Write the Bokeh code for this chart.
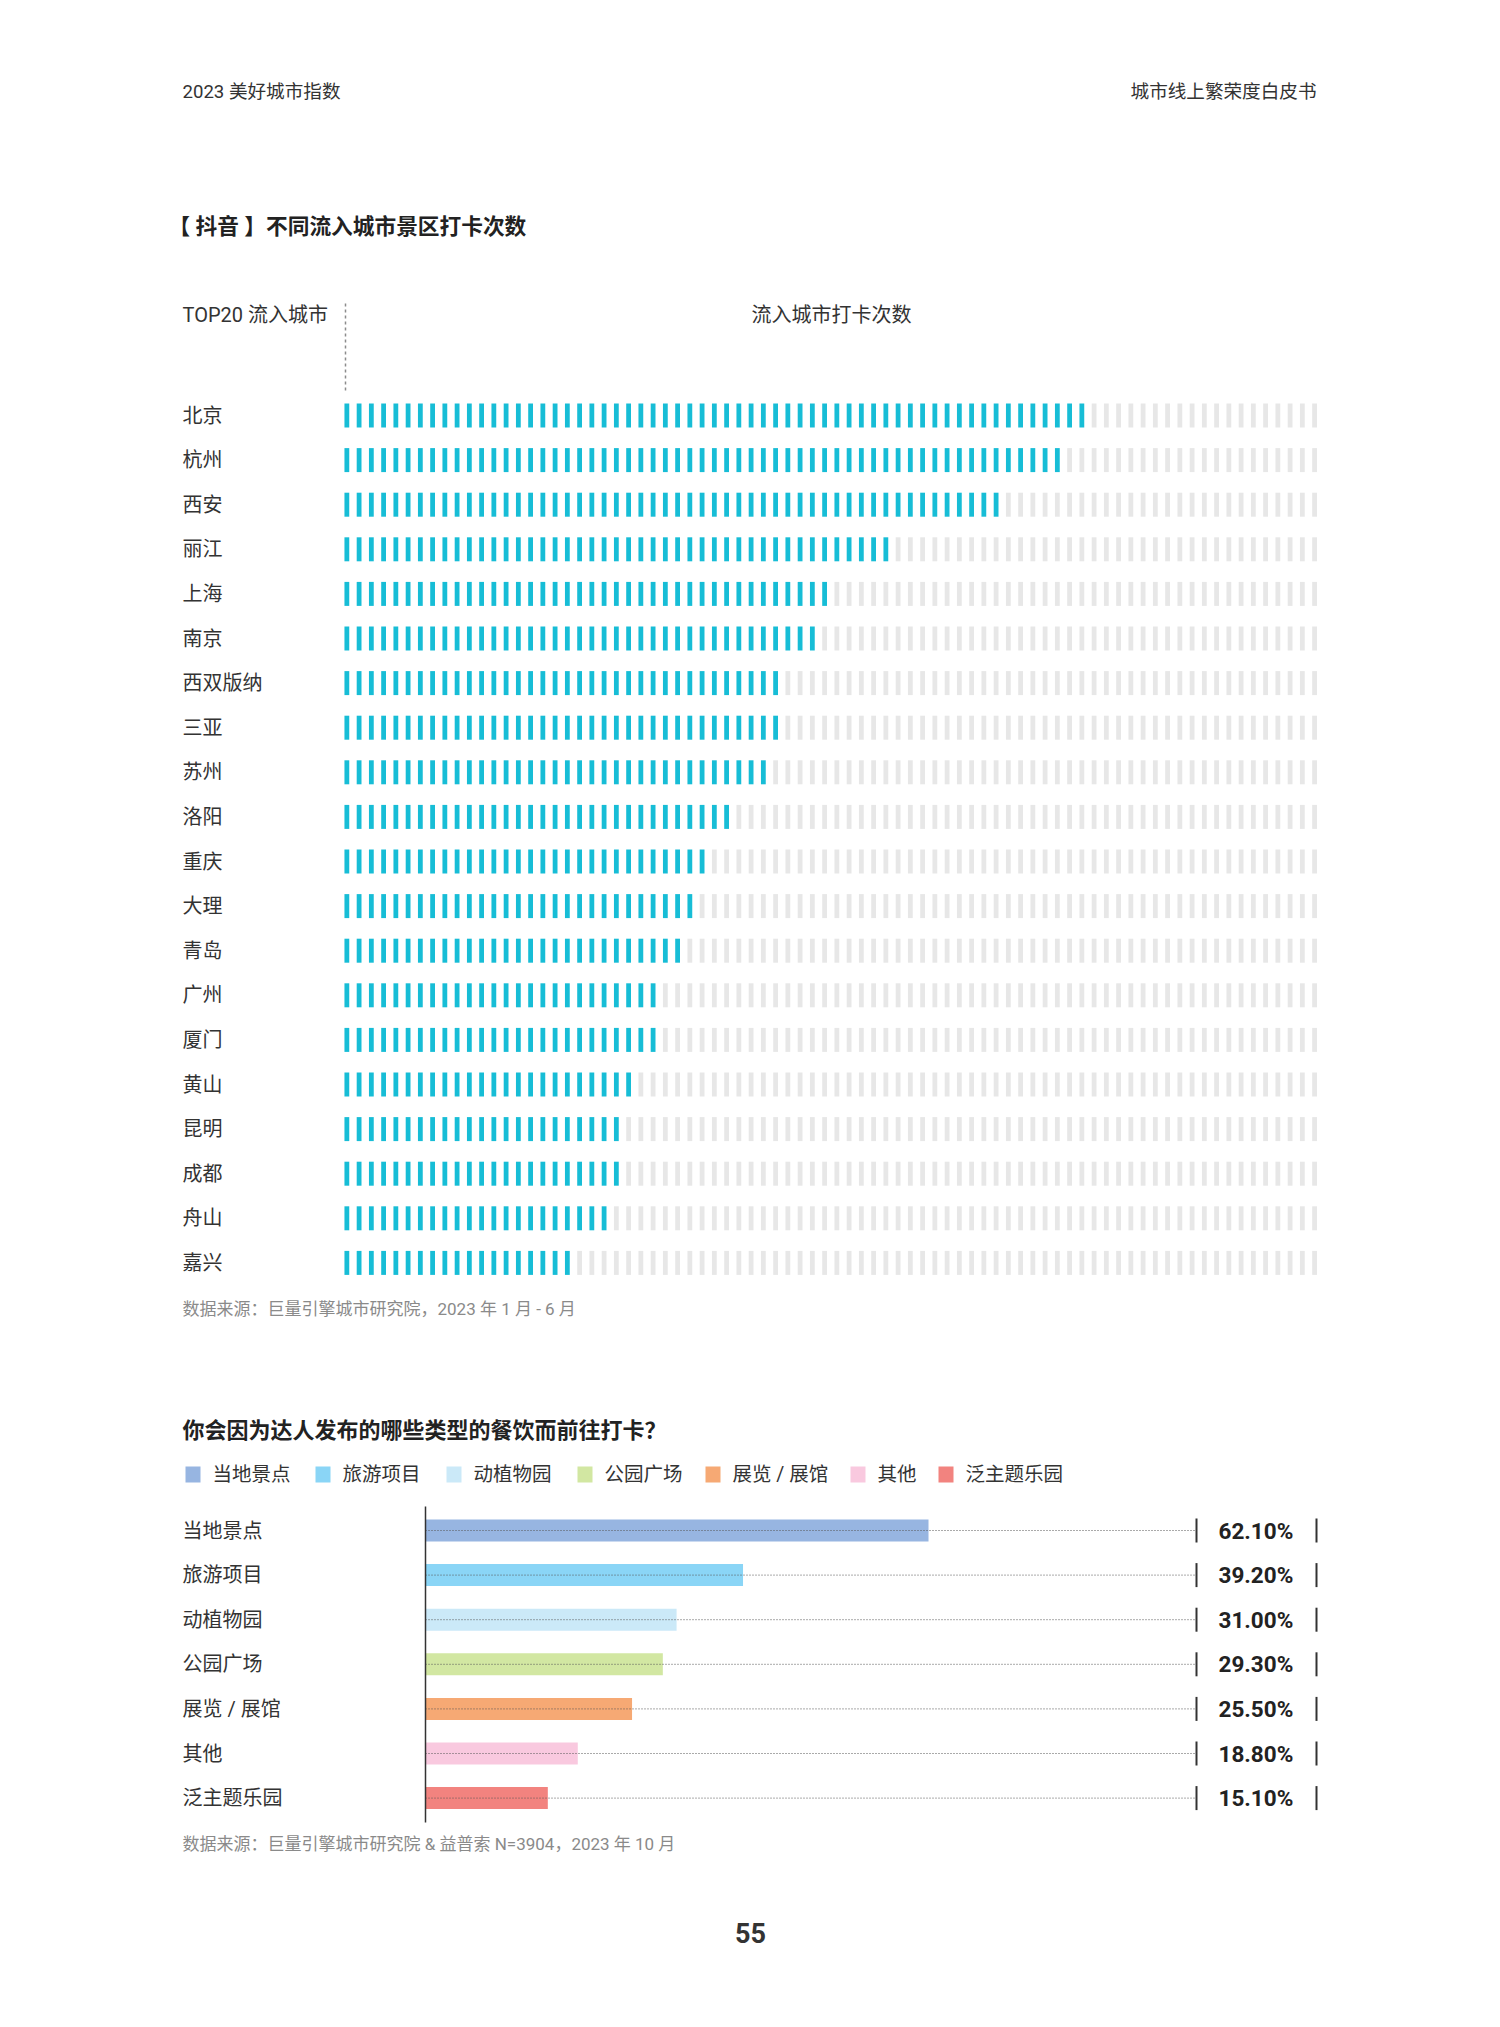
from bokeh.plotting import figure
from bokeh.models import Range1d
from bokeh.layouts import column
from bokeh.core.properties import value
from bokeh.embed import file_html
from bokeh.resources import INLINE

# ---------------- data ----------------
header_left = "2023 美好城市指数"
header_right = "城市线上繁荣度白皮书"
title1 = "【 抖音 】不同流入城市景区打卡次数"
col_head_left = "TOP20 流入城市"
col_head_right = "流入城市打卡次数"
cities = ["北京", "杭州", "西安", "丽江", "上海", "南京", "西双版纳", "三亚", "苏州", "洛阳",
          "重庆", "大理", "青岛", "广州", "厦门", "黄山", "昆明", "成都", "舟山", "嘉兴"]
checkin_blocks = [61, 59, 54, 45, 40, 39, 36, 36, 35, 32, 30, 29, 28, 26, 26, 24, 23, 23, 22, 19]
total_blocks = 80
source1 = "数据来源：巨量引擎城市研究院，2023 年 1 月 - 6 月"

title2 = "你会因为达人发布的哪些类型的餐饮而前往打卡？"
types = ["当地景点", "旅游项目", "动植物园", "公园广场", "展览 / 展馆", "其他", "泛主题乐园"]
shares = [62.10, 39.20, 31.00, 29.30, 25.50, 18.80, 15.10]
type_colors = ["#97B5E1", "#8AD5F6", "#CBE9F8", "#D2E7A2", "#F6A974", "#F9C9DF", "#F2837F"]
source2 = "数据来源：巨量引擎城市研究院 & 益普索 N=3904，2023 年 10 月"
page_no = "55"

# ---------------- style / layout ----------------
FONT = value("Roboto, 'Noto Sans CJK SC', sans-serif")
TXT = "#333333"
GREY_TXT = "#8a8a8a"
BLUE = "#17BDD6"
EMPTY = "#E7E7E7"
W = 1484
HA = 1362
HB = 2011 - HA
OFF = 0  # page offset of the layout

# ---- figure A : header + chart 1 (x in block units, y in row units) ----
PITCH = 12.25
ROW = 44.6
def ax(rx):
    return (rx - 346.35) / PITCH
def ay(ry):
    return (ry - 415.0) / ROW

pa = figure(width=W, height=HA, output_backend="svg", toolbar_location=None,
            x_range=Range1d(ax(OFF), ax(OFF + W)), y_range=Range1d(ay(OFF + HA), ay(OFF)),
            x_axis_location=None, y_axis_location=None, min_border=0,
            outline_line_color=None)
pa.grid.grid_line_color = None
pa.background_fill_color = "white"

pa.text(x=[ax(182)], y=[ay(91)], text=[header_left], text_font=FONT, text_font_size="18.6px",
        text_color=TXT, text_align="left", text_baseline="middle")
pa.text(x=[ax(1316)], y=[ay(91)], text=[header_right], text_font=FONT, text_font_size="18.6px",
        text_color=TXT, text_align="right", text_baseline="middle")
pa.text(x=[ax(168)], y=[ay(226)], text=[title1], text_font=FONT, text_font_size="21.7px",
        text_font_style="bold", text_color="#222222", text_align="left", text_baseline="middle")
pa.text(x=[ax(182)], y=[ay(314)], text=[col_head_left], text_font=FONT, text_font_size="20px",
        text_color=TXT, text_align="left", text_baseline="middle")
pa.text(x=[ax(831)], y=[ay(314)], text=[col_head_right], text_font=FONT, text_font_size="20px",
        text_color=TXT, text_align="center", text_baseline="middle")
pa.segment(x0=[ax(345)], y0=[ay(303)], x1=[ax(345)], y1=[ay(392)], line_color="#8c8c8c",
           line_width=1.5, line_dash="3 3")

bx_list, by_list, bc_list = [], [], []
for i, n in enumerate(checkin_blocks):
    for k in range(total_blocks):
        bx_list.append(k)
        by_list.append(i)
        bc_list.append(BLUE if k < n else EMPTY)
pa.rect(x=bx_list, y=by_list, width=4.8 / PITCH, height=24 / ROW, fill_color=bc_list,
        line_color=None)

pa.text(x=[ax(182)] * len(cities), y=list(range(len(cities))), text=cities, text_font=FONT,
        text_font_size="20px", text_color=TXT, text_align="left", text_baseline="middle")
pa.text(x=[ax(182)], y=[ay(1308)], text=[source1], text_font=FONT, text_font_size="17px",
        text_color=GREY_TXT, text_align="left", text_baseline="middle")

# ---- figure B : chart 2 (x in percent, y in row units) ----
PPX = 8.1
def bx(rx):
    return (rx - 425.0) / PPX
def by(ry):
    return (ry - 1530.0) / ROW
topB = OFF + HA

pb = figure(width=W, height=HB, output_backend="svg", toolbar_location=None,
            x_range=Range1d(bx(OFF), bx(OFF + W)), y_range=Range1d(by(topB + HB), by(topB)),
            x_axis_location=None, y_axis_location=None, min_border=0,
            outline_line_color=None)
pb.grid.grid_line_color = None

pb.text(x=[bx(182)], y=[by(1430)], text=[title2], text_font=FONT, text_font_size="22px",
        text_font_style="bold", text_color="#222222", text_align="left", text_baseline="middle")

# legend
leg_sq = [185, 315, 446, 577, 705, 850, 938]
pb.rect(x=[bx(s + 7.5) for s in leg_sq], y=[by(1474)] * len(leg_sq), width=15 / PPX,
        height=16 / ROW, fill_color=type_colors, line_color=None)
pb.text(x=[bx(s + 27) for s in leg_sq], y=[by(1474)] * len(leg_sq), text=types, text_font=FONT,
        text_font_size="19.5px", text_color=TXT, text_align="left", text_baseline="middle")

rows = list(range(len(types)))
pb.hbar(y=rows, left=0, right=shares, height=22 / ROW, fill_color=type_colors, line_color=None)
end_line = bx(1196)
pb.segment(x0=[0] * len(rows), y0=rows, x1=[end_line] * len(rows), y1=rows,
           line_color="#555555", line_width=1, line_dash="1 2")
pb.segment(x0=[0], y0=[by(1506)], x1=[0], y1=[by(1822)], line_color="#333333", line_width=1.5)
tick_h = 12 / ROW
pb.segment(x0=[end_line] * len(rows), y0=[r - tick_h for r in rows], x1=[end_line] * len(rows),
           y1=[r + tick_h for r in rows], line_color="#333333", line_width=2)
pb.segment(x0=[bx(1316)] * len(rows), y0=[r - tick_h for r in rows], x1=[bx(1316)] * len(rows),
           y1=[r + tick_h for r in rows], line_color="#333333", line_width=2)
pb.text(x=[bx(1218)] * len(rows), y=rows, text=[f"{s:.2f}%" for s in shares], text_font=FONT,
        text_font_size="22.5px", text_font_style="bold", text_color="#222222", text_align="left",
        text_baseline="middle")
pb.text(x=[bx(182)] * len(rows), y=rows, text=types, text_font=FONT, text_font_size="20px",
        text_color=TXT, text_align="left", text_baseline="middle")
pb.text(x=[bx(182)], y=[by(1843)], text=[source2], text_font=FONT, text_font_size="17px",
        text_color=GREY_TXT, text_align="left", text_baseline="middle")
pb.text(x=[bx(750)], y=[by(1932)], text=[page_no], text_font=FONT, text_font_size="27px",
        text_font_style="bold", text_color="#333333", text_align="center", text_baseline="middle")

layout = column(pa, pb, spacing=0)
open("out.html", "w").write(file_html(layout, INLINE))
